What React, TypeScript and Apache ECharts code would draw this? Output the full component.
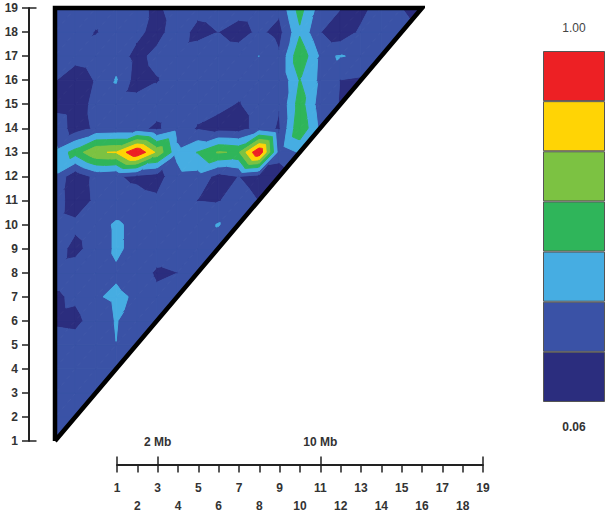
import React, { useEffect, useRef } from "react";
import * as echarts from "echarts";

// Band edges on the colour scale, 0.06 to 1.00, in seven equal bands
const bandEdges = [0.06, 0.194, 0.329, 0.463, 0.597, 0.731, 0.866, 1.0];
const bandColors = ["#2b2d7e", "#3a52a6", "#46ade2", "#2fb55a", "#7cc242", "#ffd405", "#ed2024"];
const legendLevels = ["0.06", "b2", "b3", "b4", "b5", "b6", "1.00"];
const legendValues = [1, 1, 1, 1, 1, 1, 1];

const markers = [1, 2, 3, 4, 5, 6, 7, 8, 9, 10, 11, 12, 13, 14, 15, 16, 17, 18, 19];
const oddMarkers = [1, 3, 5, 7, 9, 11, 13, 15, 17, 19];
const evenMarkers = [2, 4, 6, 8, 10, 12, 14, 16, 18];
const majorMarkers = [1, 3, 11, 19];
const distanceLabels: Record<number, string> = { 3: "2 Mb", 11: "10 Mb" };

const row19 = [0.26, 0.27, 0.27, 0.26, 0.225, 0.17, 0.25, 0.25, 0.27, 0.25, 0.26, 0.225, 0.52, 0.265, 0.2, 0.14, 0.27, 0.195, 0.13];
const row18 = [0.25, 0.26, 0.185, 0.25, 0.23, 0.14, 0.275, 0.14, 0.195, 0.14, 0.22, 0.15, 0.44, 0.2, 0.1, 0.22, 0.25, 0.25];
const row17 = [0.27, 0.238, 0.26, 0.27, 0.15, 0.235, 0.26, 0.284, 0.27, 0.26, 0.331, 0.21, 0.57, 0.31, 0.335, 0.31, 0.26];
const row16 = [0.2, 0.12, 0.204, 0.34, 0.13, 0.185, 0.26, 0.27, 0.27, 0.26, 0.26, 0.21, 0.47, 0.3, 0.192, 0.175];
const row15 = [0.13, 0.11, 0.24, 0.26, 0.25, 0.25, 0.27, 0.26, 0.23, 0.185, 0.25, 0.2, 0.53, 0.262, 0.185];
const row14 = [0.3, 0.12, 0.22, 0.23, 0.23, 0.17, 0.28, 0.18, 0.14, 0.13, 0.25, 0.18, 0.58, 0.3];
const row13 = [0.36, 0.52, 0.72, 0.74, 1.0, 0.7, 0.36, 0.47, 0.61, 0.58, 1.0, 0.25, 0.34];
const row12 = [0.3, 0.1, 0.23, 0.205, 0.17, 0.13, 0.29, 0.28, 0.15, 0.195, 0.14, 0.12];
const row11 = [0.27, 0.11, 0.22, 0.25, 0.24, 0.22, 0.26, 0.192, 0.185, 0.25, 0.19];
const row10 = [0.26, 0.225, 0.28, 0.345, 0.3, 0.27, 0.26, 0.27, 0.337, 0.26];
const row9 = [0.257, 0.15, 0.265, 0.345, 0.3, 0.28, 0.27, 0.26, 0.25];
const row8 = [0.25, 0.27, 0.27, 0.315, 0.28, 0.17, 0.193, 0.25];
const row7 = [0.17, 0.22, 0.32, 0.345, 0.318, 0.23, 0.25];
const row6 = [0.165, 0.15, 0.27, 0.335, 0.27, 0.26];
const row5 = [0.28, 0.267, 0.27, 0.328, 0.26];
const row4 = [0.27, 0.26, 0.26, 0.27];
const row3 = [0.26, 0.26, 0.25];
const row2 = [0.25, 0.25];
const row1 = [0.25];
const rows = [row1, row2, row3, row4, row5, row6, row7, row8, row9, row10, row11, row12, row13, row14, row15, row16, row17, row18, row19];

const outline = [[1, 1], [1, 19], [19, 19], [1, 1]];

type V = [number, number, number];

function buildTriangles(): number[][] {
  const out: number[][] = [];
  const val = (m: number, j: number) => rows[j - 1][m - 1];
  for (let j = 1; j < 19; j++) {
    for (let m = 1; m <= j; m++) {
      out.push([m, j, val(m, j), m, j + 1, val(m, j + 1), m + 1, j + 1, val(m + 1, j + 1)]);
      if (m + 1 <= j) {
        out.push([m, j, val(m, j), m + 1, j, val(m + 1, j), m + 1, j + 1, val(m + 1, j + 1)]);
      }
    }
  }
  return out;
}

function clip(poly: V[], level: number, keepAbove: boolean): V[] {
  const res: V[] = [];
  const inside = (p: V) => (keepAbove ? p[2] >= level : p[2] <= level);
  for (let i = 0; i < poly.length; i++) {
    const a = poly[i];
    const b = poly[(i + 1) % poly.length];
    const ia = inside(a);
    const ib = inside(b);
    if (ia) res.push(a);
    if (ia !== ib) {
      const t = (level - a[2]) / (b[2] - a[2]);
      res.push([a[0] + t * (b[0] - a[0]), a[1] + t * (b[1] - a[1]), level]);
    }
  }
  return res;
}

function renderBands(_params: any, api: any) {
  const tri: V[] = [
    [api.value(0), api.value(1), api.value(2)],
    [api.value(3), api.value(4), api.value(5)],
    [api.value(6), api.value(7), api.value(8)],
  ];
  const children: any[] = [];
  for (let b = 0; b < bandColors.length; b++) {
    let poly = clip(tri, bandEdges[b], true);
    if (poly.length >= 3) poly = clip(poly, bandEdges[b + 1], false);
    if (poly.length < 3) continue;
    children.push({
      type: "polygon",
      shape: { points: poly.map((p) => api.coord([p[0], p[1]])) },
      style: { fill: bandColors[b], stroke: bandColors[b], lineWidth: 1 },
    });
  }
  return { type: "group", children };
}

const textStyle = { fontFamily: "Liberation Sans", fontSize: 12, fontWeight: "bold" as const, color: "#333" };

export default function App() {
  const ref = useRef<HTMLDivElement>(null);
  useEffect(() => {
    const chart = echarts.init(ref.current!, undefined, { renderer: "svg" });
    const lineStyle = { color: "#222", width: 2 };
    chart.setOption({
      animation: false,
      backgroundColor: "#fff",
      grid: [
        { left: 55, top: 8, width: 367, height: 433 },
        { left: 117, top: 450, width: 366, height: 14.5 },
        { left: 543, top: 51, width: 62, height: 351 },
      ],
      xAxis: [
        { gridIndex: 0, type: "value", min: 1, max: 19, show: false },
        {
          gridIndex: 1, type: "value", min: 1, max: 19, interval: 1, position: "bottom",
          splitLine: { show: false },
          axisLine: { show: true, lineStyle },
          axisTick: { show: true, length: 8, lineStyle: { color: "#222", width: 1.5 } },
          axisLabel: { ...textStyle, margin: 17, customValues: oddMarkers },
        },
        {
          gridIndex: 1, type: "value", min: 1, max: 19, interval: 1, position: "bottom",
          splitLine: { show: false },
          axisLine: { show: false },
          axisTick: { show: false },
          axisLabel: { ...textStyle, margin: 35, customValues: evenMarkers },
        },
        {
          gridIndex: 1, type: "value", min: 1, max: 19, interval: 1, position: "bottom",
          splitLine: { show: false },
          axisLine: { show: false },
          axisTick: { show: true, inside: true, length: 8, customValues: majorMarkers, lineStyle: { color: "#222", width: 1.5 } },
          axisLabel: {
            ...textStyle, inside: true, margin: 17, customValues: [3, 11],
            formatter: (v: number) => distanceLabels[v] ?? "",
          },
        },
        { gridIndex: 2, type: "value", min: 0, max: 1, show: false },
      ],
      yAxis: [
        {
          gridIndex: 0, type: "value", min: 1, max: 19, interval: 1, position: "left", offset: 26.5,
          splitLine: { show: false },
          axisLine: { show: true, lineStyle },
          axisTick: { show: true, length: 6.5, lineStyle: { color: "#222", width: 1.5 } },
          axisLabel: { ...textStyle, margin: 10.5 },
        },
        {
          gridIndex: 0, type: "value", min: 1, max: 19, interval: 1, position: "left", offset: 26.5,
          splitLine: { show: false },
          axisLine: { show: false },
          axisTick: { show: true, inside: true, length: 8, customValues: [markers[0], markers[18]], lineStyle: { color: "#222", width: 1.5 } },
          axisLabel: { show: false },
        },
        { gridIndex: 2, type: "category", data: legendLevels, show: false },
        { gridIndex: 1, type: "value", min: 0, max: 1, show: false },
      ],
      series: [
        {
          type: "custom",
          xAxisIndex: 0,
          yAxisIndex: 0,
          clip: false,
          silent: true,
          renderItem: renderBands,
          encode: { x: [0, 3, 6], y: [1, 4, 7] },
          data: buildTriangles(),
          z: 1,
        },
        {
          type: "line",
          xAxisIndex: 0,
          yAxisIndex: 0,
          data: outline,
          symbol: "none",
          clip: false,
          silent: true,
          lineStyle: { color: "#000", width: 4.5, join: "miter" },
          z: 3,
        },
        {
          type: "bar",
          xAxisIndex: 4,
          yAxisIndex: 2,
          barCategoryGap: 0,
          barWidth: "100%",
          silent: true,
          data: legendValues.map((v, i) => ({
            value: v,
            itemStyle: { color: bandColors[i], borderColor: "#555", borderWidth: 1 },
          })),
        },
      ],
      graphic: [
        { type: "text", x: 574, y: 28, style: { text: "1.00", fill: "#444", font: "12px 'Liberation Sans'", align: "center", verticalAlign: "middle" } },
        { type: "text", x: 574, y: 427, style: { text: "0.06", fill: "#333", font: "bold 12px 'Liberation Sans'", align: "center", verticalAlign: "middle" } },
      ],
    });
    return () => chart.dispose();
  }, []);
  return <div ref={ref} style={{ position: "absolute", left: 0, top: 0, width: 612, height: 517 }} />;
}
